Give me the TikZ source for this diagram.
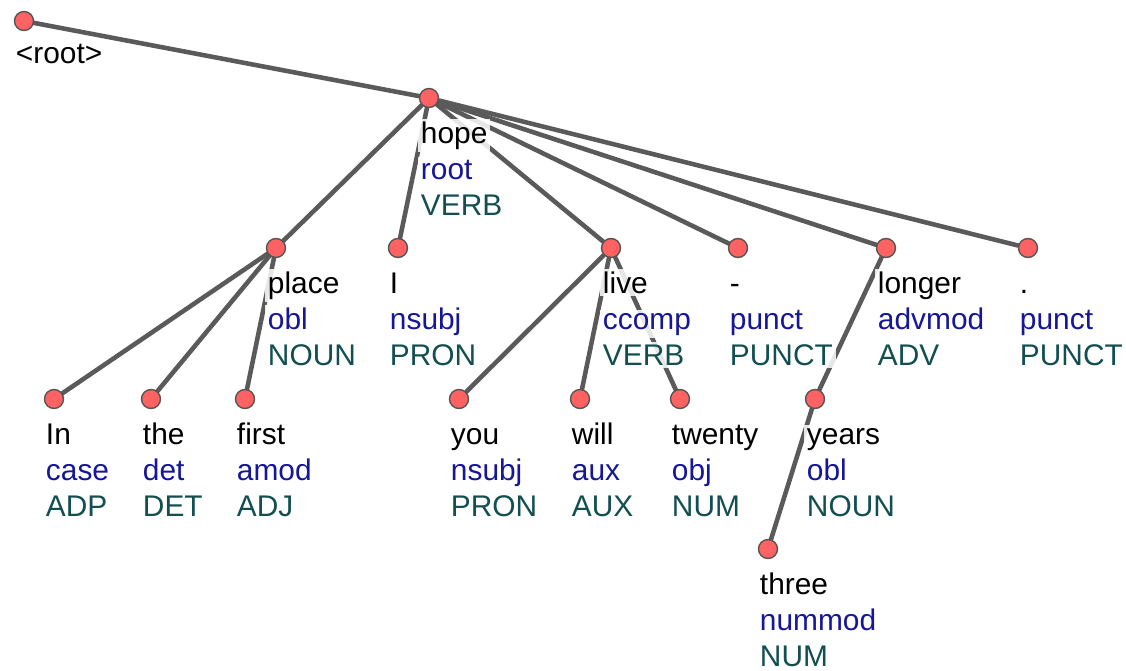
\documentclass[tikz,border=0pt]{standalone}
\usepackage{fontspec}
\setmainfont{Liberation Sans}
\definecolor{edgec}{HTML}{5A5A5A}
\definecolor{nodefill}{HTML}{FF6262}
\definecolor{nodeline}{HTML}{555555}
\definecolor{relc}{HTML}{16169A}
\definecolor{posc}{HTML}{134F50}
\pgfdeclarelayer{edgelayer}
\pgfdeclarelayer{labellayer}
\pgfsetlayers{edgelayer,labellayer,main}
\tikzset{
  tok/.style={circle, minimum size=0.38cm, inner sep=0pt, fill=nodefill, draw=nodeline, line width=0.8pt},
  dep/.style={draw=edgec, line width=2.6pt, line cap=round},
  lbl/.style={anchor=base west, inner sep=1.5pt, fill=white, fill opacity=0.85, text opacity=1, font=\fontsize{17}{20}\selectfont},
}
\newcommand\tk[6]{%
  \node[tok] (#1) at (#2,#3) {};
  \begin{pgfonlayer}{labellayer}
    \node[lbl,text=black] (#1-w) at ([shift={(-11,45)}]#1.center) {#4};
    \node[lbl,text=relc] (#1-r) at ([shift={(-11,81)}]#1.center) {#5};
    \node[lbl,text=posc] (#1-p) at ([shift={(-11,117)}]#1.center) {#6};
  \end{pgfonlayer}}
\begin{document}
\begin{tikzpicture}[x=0.02cm,y=-0.02cm]
\useasboundingbox (0,0) rectangle (1126,670);
% root
\node[tok] (root) at (24,21) {};
\begin{pgfonlayer}{labellayer}
  \node[lbl,text=black] (root-w) at ([shift={(-11,42)}]root.center) {<root>};
\end{pgfonlayer}
\tk{hope}{429}{98}{hope}{root}{VERB}
\tk{place}{276}{248}{place}{obl}{NOUN}
\tk{I}{398}{248}{I}{nsubj}{PRON}
\tk{live}{611}{248}{live}{ccomp}{VERB}
\tk{dash}{738}{248}{-}{punct}{PUNCT}
\tk{longer}{886}{248}{longer}{advmod}{ADV}
\tk{period}{1028}{248}{.}{punct}{PUNCT}
\tk{In}{54}{399}{In}{case}{ADP}
\tk{the}{151}{399}{the}{det}{DET}
\tk{first}{245}{399}{first}{amod}{ADJ}
\tk{you}{459}{399}{you}{nsubj}{PRON}
\tk{will}{580}{399}{will}{aux}{AUX}
\tk{twenty}{680}{399}{twenty}{obj}{NUM}
\tk{years}{815}{399}{years}{obl}{NOUN}
\tk{three}{768}{549}{three}{nummod}{NUM}
\begin{pgfonlayer}{edgelayer}
  \draw[dep] (root) -- (hope);
  \foreach \c in {place,I,live,dash,longer,period} \draw[dep] (hope) -- (\c);
  \foreach \c in {In,the,first} \draw[dep] (place) -- (\c);
  \foreach \c in {you,will,twenty} \draw[dep] (live) -- (\c);
  \draw[dep] (longer) -- (years);
  \draw[dep] (years) -- (three);
\end{pgfonlayer}
\end{tikzpicture}
\end{document}
